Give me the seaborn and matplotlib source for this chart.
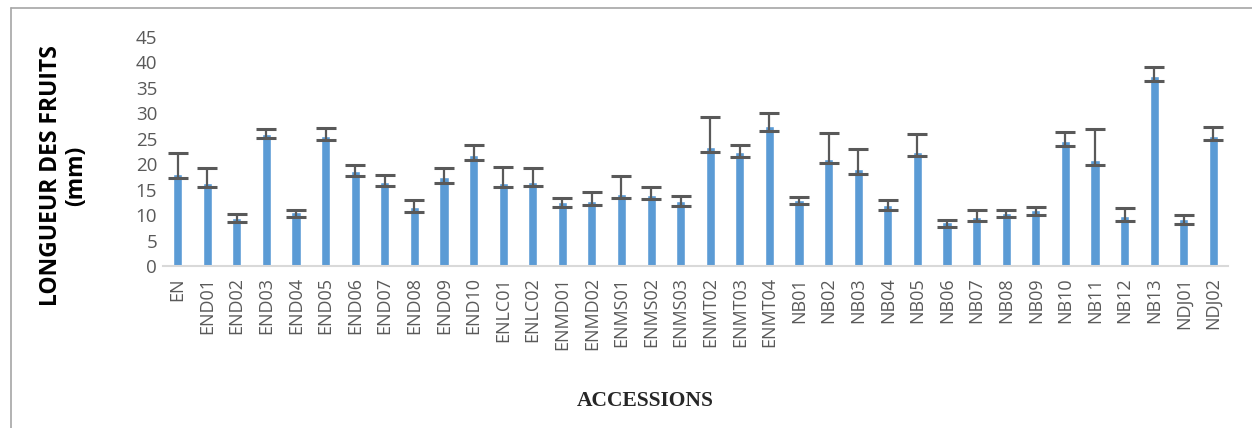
import numpy as np
import pandas as pd
import matplotlib
matplotlib.use("Agg")
import matplotlib.pyplot as plt
import seaborn as sns
from matplotlib.lines import Line2D

# Fruit length per accession (mm)
accessions = ["EN", "END01", "END02", "END03", "END04", "END05", "END06", "END07",
              "END08", "END09", "END10", "ENLC01", "ENLC02", "ENMD01", "ENMD02",
              "ENMS01", "ENMS02", "ENMS03", "ENMT02", "ENMT03", "ENMT04",
              "NB01", "NB02", "NB03", "NB04", "NB05", "NB06", "NB07", "NB08",
              "NB09", "NB10", "NB11", "NB12", "NB13", "NDJ01", "NDJ02"]
longueur = [18.1, 16.4, 9.5, 26.0, 10.6, 25.6, 18.7, 16.6,
            11.6, 17.4, 21.8, 16.4, 16.6, 12.5, 12.8,
            14.2, 14.0, 12.8, 23.3, 22.4, 27.5,
            13.0, 21.1, 19.0, 12.0, 22.5, 8.6, 9.7, 10.5,
            11.0, 24.5, 20.9, 9.9, 37.4, 9.2, 25.6]
# upper and lower error bar lengths
err_haut = [4.2, 2.8, 0.8, 0.9, 0.4, 1.6, 1.2, 1.2,
            1.4, 1.9, 1.9, 3.0, 2.6, 0.9, 1.7,
            3.4, 1.6, 1.0, 6.0, 1.3, 2.6,
            0.6, 5.0, 4.0, 1.0, 3.4, 0.4, 1.3, 0.5,
            0.6, 1.8, 6.0, 1.5, 1.7, 0.9, 1.8]
err_bas = [0.9, 0.9, 0.8, 0.9, 0.9, 0.9, 1.0, 0.9,
           0.9, 1.0, 0.9, 0.9, 0.9, 1.0, 0.9,
           0.9, 0.9, 1.0, 0.9, 0.9, 0.9,
           0.9, 0.9, 0.9, 0.9, 0.9, 0.9, 0.9, 0.9,
           0.9, 0.9, 1.0, 1.0, 1.0, 0.9, 0.9]
y_ticks = [0, 5, 10, 15, 20, 25, 30, 35, 40, 45]

df = pd.DataFrame({"accession": accessions, "longueur": longueur})

sns.set_style("white")
plt.rcParams["font.family"] = ["Open Sans", "DejaVu Sans"]

fig = plt.figure(figsize=(12.52, 4.28), dpi=100)
ax = fig.add_axes([0.130, 0.3785, 0.851, 0.535])

sns.barplot(data=df, x="accession", y="longueur", color="#5b9bd5",
            width=0.31, ax=ax, saturation=1, errorbar=None)
ax.errorbar(np.arange(len(accessions)), longueur, yerr=[err_bas, err_haut],
            fmt="none", ecolor="#595959", elinewidth=1.6, capsize=7.5,
            capthick=2.2)

ax.set_xlim(-0.5, len(accessions) - 0.5)
ax.set_ylim(0, 45)
ax.set_yticks(y_ticks)
ax.tick_params(axis="y", length=0, labelsize=13.5, labelcolor="#595959", pad=4)
ax.tick_params(axis="x", length=0, labelsize=13, labelcolor="#595959",
               labelrotation=90, pad=8)

# tick marks between categories
ax.set_xticks(np.arange(len(accessions) + 1) - 0.5, minor=True)
ax.tick_params(axis="x", which="minor", length=7, width=1.2, color="#d9d9d9")

for s in ["top", "right", "left"]:
    ax.spines[s].set_visible(False)
ax.spines["bottom"].set_color("#d9d9d9")
ax.spines["bottom"].set_linewidth(1.5)

ax.set_xlabel("")
ax.set_ylabel("")
fig.text(0.051, 0.59, "LONGUEUR DES FRUITS\n(mm)", rotation=90, ha="center",
         va="center", fontsize=16.5, fontweight="bold", color="black",
         linespacing=1.05)
fig.text(0.515, 0.063, "ACCESSIONS", ha="center", va="center",
         fontsize=15.5, fontweight="bold", family="Liberation Serif")

# chart frame (top and left edges visible)
fig.add_artist(Line2D([0.009, 1.0], [0.981, 0.981], color="#a6a6a6", lw=1.2))
fig.add_artist(Line2D([0.009, 0.009], [0.0, 0.981], color="#a6a6a6", lw=1.2))

fig.savefig("out.png", dpi=100)
